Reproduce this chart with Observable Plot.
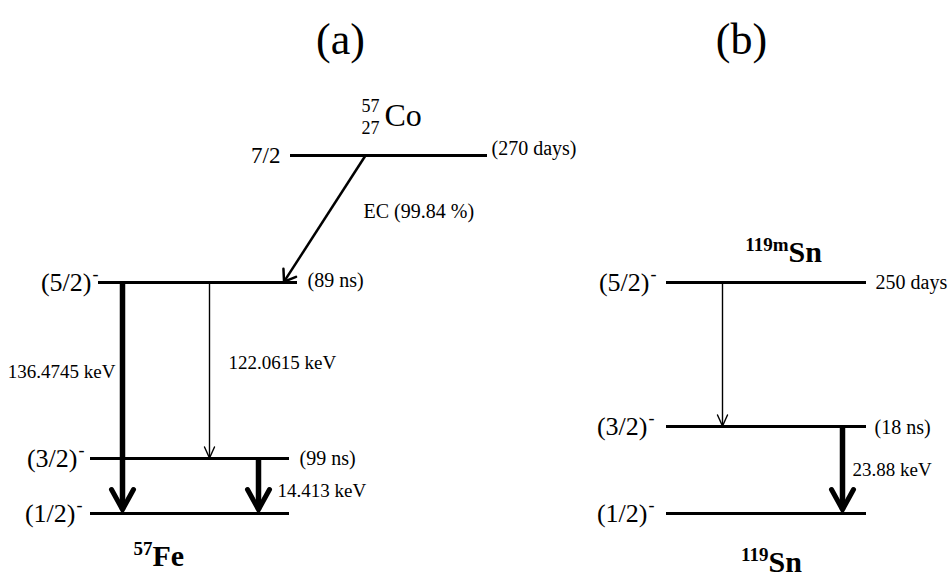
<!DOCTYPE html>
<html>
<head>
<meta charset="utf-8">
<script src="https://cdn.jsdelivr.net/npm/d3@7"></script>
<script src="https://cdn.jsdelivr.net/npm/@observablehq/plot@0.6"></script>
<style>
  html, body { margin: 0; padding: 0; background: #fff; }
  #chart svg { display: block; }
  #chart svg text { font-family: "Liberation Serif", "Times New Roman", Times, serif; }
</style>
</head>
<body>
<div id="chart"></div>
<script>
const FONT = "Liberation Serif";

// Panel headings
const panelTitles = ["(a)", "(b)"];
const panelTitleX = [340, 741];

// Nuclear levels: spin, parity, half-life
const levelSpin = ["7/2", "(5/2)", "(3/2)", "(1/2)", "(5/2)", "(3/2)", "(1/2)"];
const levelParity = ["", "-", "-", "-", "-", "-", "-"];
const levelHalfLife = ["(270 days)", "(89 ns)", "(99 ns)", "", "250 days", "(18 ns)", ""];

// Transitions between levels (indices into the level arrays)
const transFrom = [0, 1, 1, 2, 4, 5];
const transTo = [1, 3, 2, 3, 5, 6];
const transLabel = ["EC (99.84 %)", "136.4745 keV", "122.0615 keV", "14.413 keV", "", "23.88 keV"];
const transIntensity = ["medium", "strong", "weak", "strong", "weak", "strong"];

// Nuclides: mass number, atomic number, element symbol
const nuclideMass = ["57", "57", "119m", "119"];
const nuclideCharge = ["27", "", "", ""];
const nuclideSymbol = ["Co", "Fe", "Sn", "Sn"];

// ---- layout of the scheme, in drawing units ----
const levelY = [155, 282, 458, 513, 282, 426, 513];
const levelX1 = [290, 98, 90, 90, 666, 666, 666];
const levelX2 = [487, 297, 289, 289, 866, 866, 866];
const spinEndX = [280, 91, 77, 75, 649, 647, 647];
const halfLifeX = [491, 307, 299, 0, 875, 874, 0];
const halfLifeBase = [154, 286, 464, 0, 288, 433, 0];

const transX1 = [365, 122, 209, 258, 722, 842];
const transX2 = [283, 122, 209, 258, 722, 842];
const transLabelX = [363, 115, 228, 277, 0, 852];
const transLabelBase = [217, 377, 368, 496, 0, 475];

const nuclideX = [384, 152, 788, 768];
const nuclideBase = [125, 565, 261, 571];

// arrow styles by intensity
const arrowStyle = {
  strong: {shaft: 5.5, head: 5, len: 20, half: 11, gap: 4},
  medium: {shaft: 2.5, head: 2.5, len: 10.5, half: 7.5, gap: 1},
  weak:   {shaft: 1.4, head: 1.4, len: 11, half: 5, gap: 0.5}
};

const levels = d3.range(levelSpin.length);
const trans = d3.range(transFrom.length);
const nuclides = d3.range(nuclideSymbol.length);

// arrow geometry (shaft endpoints and arrowhead polyline), derived from levels
const arrows = trans.map(i => {
  const s = arrowStyle[transIntensity[i]];
  const x1 = transX1[i], y1 = levelY[transFrom[i]];
  const x2 = transX2[i], y2 = levelY[transTo[i]];
  const dx = x2 - x1, dy = y2 - y1, len = Math.hypot(dx, dy);
  const ux = dx / len, uy = dy / len;
  return {i, x1, y1, x2: x2 - ux * s.gap, y2: y2 - uy * s.gap, ux, uy, style: s, kind: transIntensity[i]};
});
const heads = arrows.flatMap(a => {
  const {len, half} = a.style;
  const nx = -a.uy, ny = a.ux;
  const bx = a.x2 - a.ux * len, by = a.y2 - a.uy * len;
  return [
    {id: a.i, kind: a.kind, x: bx + nx * half, y: by + ny * half},
    {id: a.i, kind: a.kind, x: a.x2, y: a.y2},
    {id: a.i, kind: a.kind, x: bx - nx * half, y: by - ny * half}
  ];
});

const labelled = trans.filter(i => transLabel[i]);
const leftOfArrow = i => transLabelX[i] < transX1[i] && transLabelX[i] < transX2[i];
const serif = {fontFamily: FONT, fill: "#000", lineAnchor: "bottom"};

const marks = [
  // panel titles
  Plot.text(panelTitles, {
    ...serif, x: (d, i) => panelTitleX[i], y: () => 53, text: d => d,
    fontSize: 44, textAnchor: "middle"
  }),
  // levels
  Plot.ruleY(levels, {
    y: i => levelY[i], x1: i => levelX1[i], x2: i => levelX2[i],
    stroke: "#000", strokeWidth: 3
  }),
  // spin labels
  Plot.text(levels, {
    ...serif, lineAnchor: "middle",
    x: i => spinEndX[i], y: i => levelY[i], text: i => levelSpin[i],
    fontSize: i => levelSpin[i].startsWith("(") ? 26 : 23,
    textAnchor: "end"
  }),
  // parity superscripts
  Plot.text(levels.filter(i => levelParity[i]), {
    ...serif, x: i => spinEndX[i] + 1, y: i => levelY[i] - 2.5, text: i => levelParity[i],
    fontSize: 18, textAnchor: "start"
  }),
  // half-lives
  Plot.text(levels.filter(i => levelHalfLife[i]), {
    ...serif, x: i => halfLifeX[i], y: i => halfLifeBase[i], text: i => levelHalfLife[i],
    fontSize: 20, textAnchor: "start"
  }),
  // transition shafts
  Plot.link(arrows, {
    x1: "x1", y1: "y1", x2: "x2", y2: "y2",
    stroke: "#000", strokeWidth: d => d.style.shaft, strokeLinecap: "butt"
  }),
  // arrowheads
  ...["strong", "medium", "weak"].map(k => Plot.line(heads.filter(h => h.kind === k), {
    x: "x", y: "y", z: "id", stroke: "#000",
    strokeWidth: arrowStyle[k].head, strokeLinejoin: "miter", strokeMiterlimit: 10
  })),
  // transition labels left of their arrow
  Plot.text(labelled.filter(leftOfArrow), {
    ...serif, x: i => transLabelX[i], y: i => transLabelBase[i], text: i => transLabel[i],
    fontSize: 19, textAnchor: "end"
  }),
  // transition labels right of their arrow
  Plot.text(labelled.filter(i => !leftOfArrow(i)), {
    ...serif, x: i => transLabelX[i], y: i => transLabelBase[i], text: i => transLabel[i],
    fontSize: i => transIntensity[i] === "medium" ? 20 : 19, textAnchor: "start"
  }),
  // parent 57Co: element, mass number, atomic number
  Plot.text(nuclides.filter(i => nuclideCharge[i]), {
    ...serif, x: i => nuclideX[i], y: i => nuclideBase[i], text: i => nuclideSymbol[i],
    fontSize: 32, textAnchor: "start"
  }),
  Plot.text(nuclides.filter(i => nuclideCharge[i]), {
    ...serif, x: i => nuclideX[i] - 5, y: i => nuclideBase[i] - 14, text: i => nuclideMass[i],
    fontSize: 18, textAnchor: "end"
  }),
  Plot.text(nuclides.filter(i => nuclideCharge[i]), {
    ...serif, x: i => nuclideX[i] - 5, y: i => nuclideBase[i] + 8, text: i => nuclideCharge[i],
    fontSize: 18, textAnchor: "end"
  }),
  // Mössbauer nuclides, bold
  Plot.text(nuclides.filter(i => !nuclideCharge[i]), {
    ...serif, x: i => nuclideX[i], y: i => nuclideBase[i], text: i => nuclideSymbol[i],
    fontSize: 30, fontWeight: "bold", textAnchor: "start"
  }),
  Plot.text(nuclides.filter(i => !nuclideCharge[i]), {
    ...serif, x: i => nuclideX[i], y: i => nuclideBase[i] - 11, text: i => nuclideMass[i],
    fontSize: 19, fontWeight: "bold", textAnchor: "end"
  })
];

const chart = Plot.plot({
  width: 951,
  height: 576,
  margin: 0,
  style: {background: "#fff", color: "#000", overflow: "visible"},
  x: {domain: [0, 951], range: [0, 951], axis: null},
  y: {domain: [0, 576], range: [0, 576], axis: null},
  marks
});
document.getElementById("chart").append(chart);
</script>
</body>
</html>
